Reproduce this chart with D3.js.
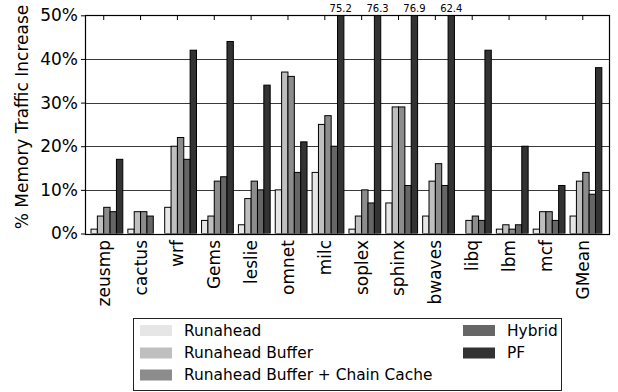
<!DOCTYPE html>
<html>
<head>
<meta charset="utf-8">
<script src="https://cdn.jsdelivr.net/npm/d3@7"></script>
<style>
  html, body { margin: 0; padding: 0; background: #fff; }
  svg { display: block; font-family: "DejaVu Sans", sans-serif; }
</style>
</head>
<body>
<svg id="chart" width="618" height="392"></svg>
<script>
// Benchmarks along the x axis
const categories = ["zeusmp", "cactus", "wrf", "Gems", "leslie", "omnet", "milc",
  "soplex", "sphinx", "bwaves", "libq", "lbm", "mcf", "GMean"];

// Series names (legend order)
const seriesNames = ["Runahead", "Runahead Buffer", "Runahead Buffer + Chain Cache", "Hybrid", "PF"];

// % memory traffic increase per benchmark, one array per series
const runahead       = [1, 1, 6, 3, 2, 10, 14, 1, 7, 4, 0, 1, 1, 4];
const runaheadBuffer = [4, 5, 20, 4, 8, 37, 25, 4, 29, 12, 3, 2, 5, 12];
const chainCache     = [6, 5, 22, 12, 12, 36, 27, 10, 29, 16, 4, 1, 5, 14];
const hybrid         = [5, 4, 17, 13, 10, 14, 20, 7, 11, 11, 3, 2, 3, 9];
const pf             = [17, 0, 42, 44, 34, 21, 75.2, 76.3, 76.9, 62.4, 42, 20, 11, 38];

const seriesValues = [runahead, runaheadBuffer, chainCache, hybrid, pf];
const seriesColors = ["#e6e6e6", "#bfbfbf", "#8c8c8c", "#666666", "#333333"];

// y axis ticks (percent)
const yTicks = [0, 10, 20, 30, 40, 50];
const yMax = 50;

const svg = d3.select("#chart");

const plot = { left: 85, right: 610, top: 15.3, bottom: 233.5 };

// Group index -> pixel; each group holds five bars
const x = d3.scaleLinear().domain([-0.163, 14.084]).range([plot.left, plot.right]);
const barW = 0.1725;
const y = d3.scaleLinear().domain([0, yMax]).range([plot.bottom, plot.top]);

svg.append("defs").append("clipPath").attr("id", "plot-clip")
  .append("rect")
  .attr("x", plot.left).attr("y", plot.top)
  .attr("width", plot.right - plot.left).attr("height", plot.bottom - plot.top);

// Horizontal grid lines
svg.append("g").selectAll("line")
  .data(yTicks.filter(t => t > 0 && t < yMax))
  .join("line")
  .attr("x1", plot.left).attr("x2", plot.right)
  .attr("y1", d => Math.round(y(d)) + 0.5).attr("y2", d => Math.round(y(d)) + 0.5)
  .attr("stroke", "#3a3a3a").attr("stroke-width", 1);

// Bars
const bars = svg.append("g").attr("clip-path", "url(#plot-clip)");
seriesValues.forEach((vals, s) => {
  bars.append("g").selectAll("rect")
    .data(vals.map((v, i) => ({ v, i })).filter(d => d.v > 0))
    .join("rect")
    .attr("x", d => x(d.i + s * barW))
    .attr("width", x(barW) - x(0))
    .attr("y", d => y(Math.min(d.v, yMax + 2)))
    .attr("height", d => y(0) - y(Math.min(d.v, yMax + 2)))
    .attr("fill", seriesColors[s])
    .attr("stroke", "#000")
    .attr("stroke-width", 1);
});

// Values of bars that exceed the axis range
svg.append("g").selectAll("text")
  .data(pf.map((v, i) => ({ v, i })).filter(d => d.v > yMax))
  .join("text")
  .attr("x", d => x(d.i + 4.5 * barW))
  .attr("y", 12)
  .attr("text-anchor", "middle")
  .attr("font-size", 10)
  .attr("fill", "#000")
  .text(d => d.v.toFixed(1));

// Axes frame
svg.append("rect")
  .attr("x", plot.left + 0.5).attr("y", Math.round(plot.top) + 0.5)
  .attr("width", plot.right - plot.left - 1)
  .attr("height", Math.round(plot.bottom) - Math.round(plot.top))
  .attr("fill", "none").attr("stroke", "#000").attr("stroke-width", 1.2);

// Top tick marks (pointing inward)
svg.append("g").selectAll("line")
  .data(categories.map((c, i) => i))
  .join("line")
  .attr("x1", i => x(i + 2 * barW)).attr("x2", i => x(i + 2 * barW))
  .attr("y1", Math.round(plot.top)).attr("y2", Math.round(plot.top) + 5)
  .attr("stroke", "#000").attr("stroke-width", 1);

// y axis
const yAxis = d3.axisLeft(y).tickValues(yTicks).tickSize(4).tickPadding(3)
  .tickFormat(d => d + "%");
svg.append("g")
  .attr("transform", `translate(${plot.left},0)`)
  .call(yAxis)
  .call(g => g.select(".domain").remove())
  .call(g => g.selectAll("text").attr("font-size", 17).attr("fill", "#000")
    .attr("font-family", "DejaVu Sans, sans-serif"));

// x tick labels, rotated
svg.append("g").selectAll("text")
  .data(categories)
  .join("text")
  .attr("transform", (d, i) => `translate(${x(i + 2 * barW)},240) rotate(-90)`)
  .attr("text-anchor", "end")
  .attr("dy", "0.35em")
  .attr("font-size", 17)
  .attr("fill", "#000")
  .text(d => d);

// y axis title
svg.append("text")
  .attr("transform", "translate(22,117) rotate(-90)")
  .attr("text-anchor", "middle")
  .attr("dy", "0.35em")
  .attr("font-size", 17)
  .attr("fill", "#000")
  .text("% Memory Traffic Increase");

// Legend
const legend = svg.append("g");
legend.append("rect")
  .attr("x", 133.5).attr("y", 318.5).attr("width", 428).attr("height", 72)
  .attr("fill", "#fff").attr("stroke", "#222").attr("stroke-width", 1);

const legendCols = [{ sx: 140, tx: 184 }, { sx: 463, tx: 507 }];
const rowY = [330.5, 353, 375];
seriesNames.forEach((name, s) => {
  const col = s < 3 ? 0 : 1;
  const row = s < 3 ? s : s - 3;
  legend.append("rect")
    .attr("x", legendCols[col].sx).attr("y", rowY[row] - 5.5)
    .attr("width", 32).attr("height", 11)
    .attr("fill", seriesColors[s]);
  legend.append("text")
    .attr("x", legendCols[col].tx).attr("y", rowY[row])
    .attr("dy", "0.35em")
    .attr("font-size", 15.4)
    .attr("fill", "#000")
    .text(name);
});
</script>
</body>
</html>
